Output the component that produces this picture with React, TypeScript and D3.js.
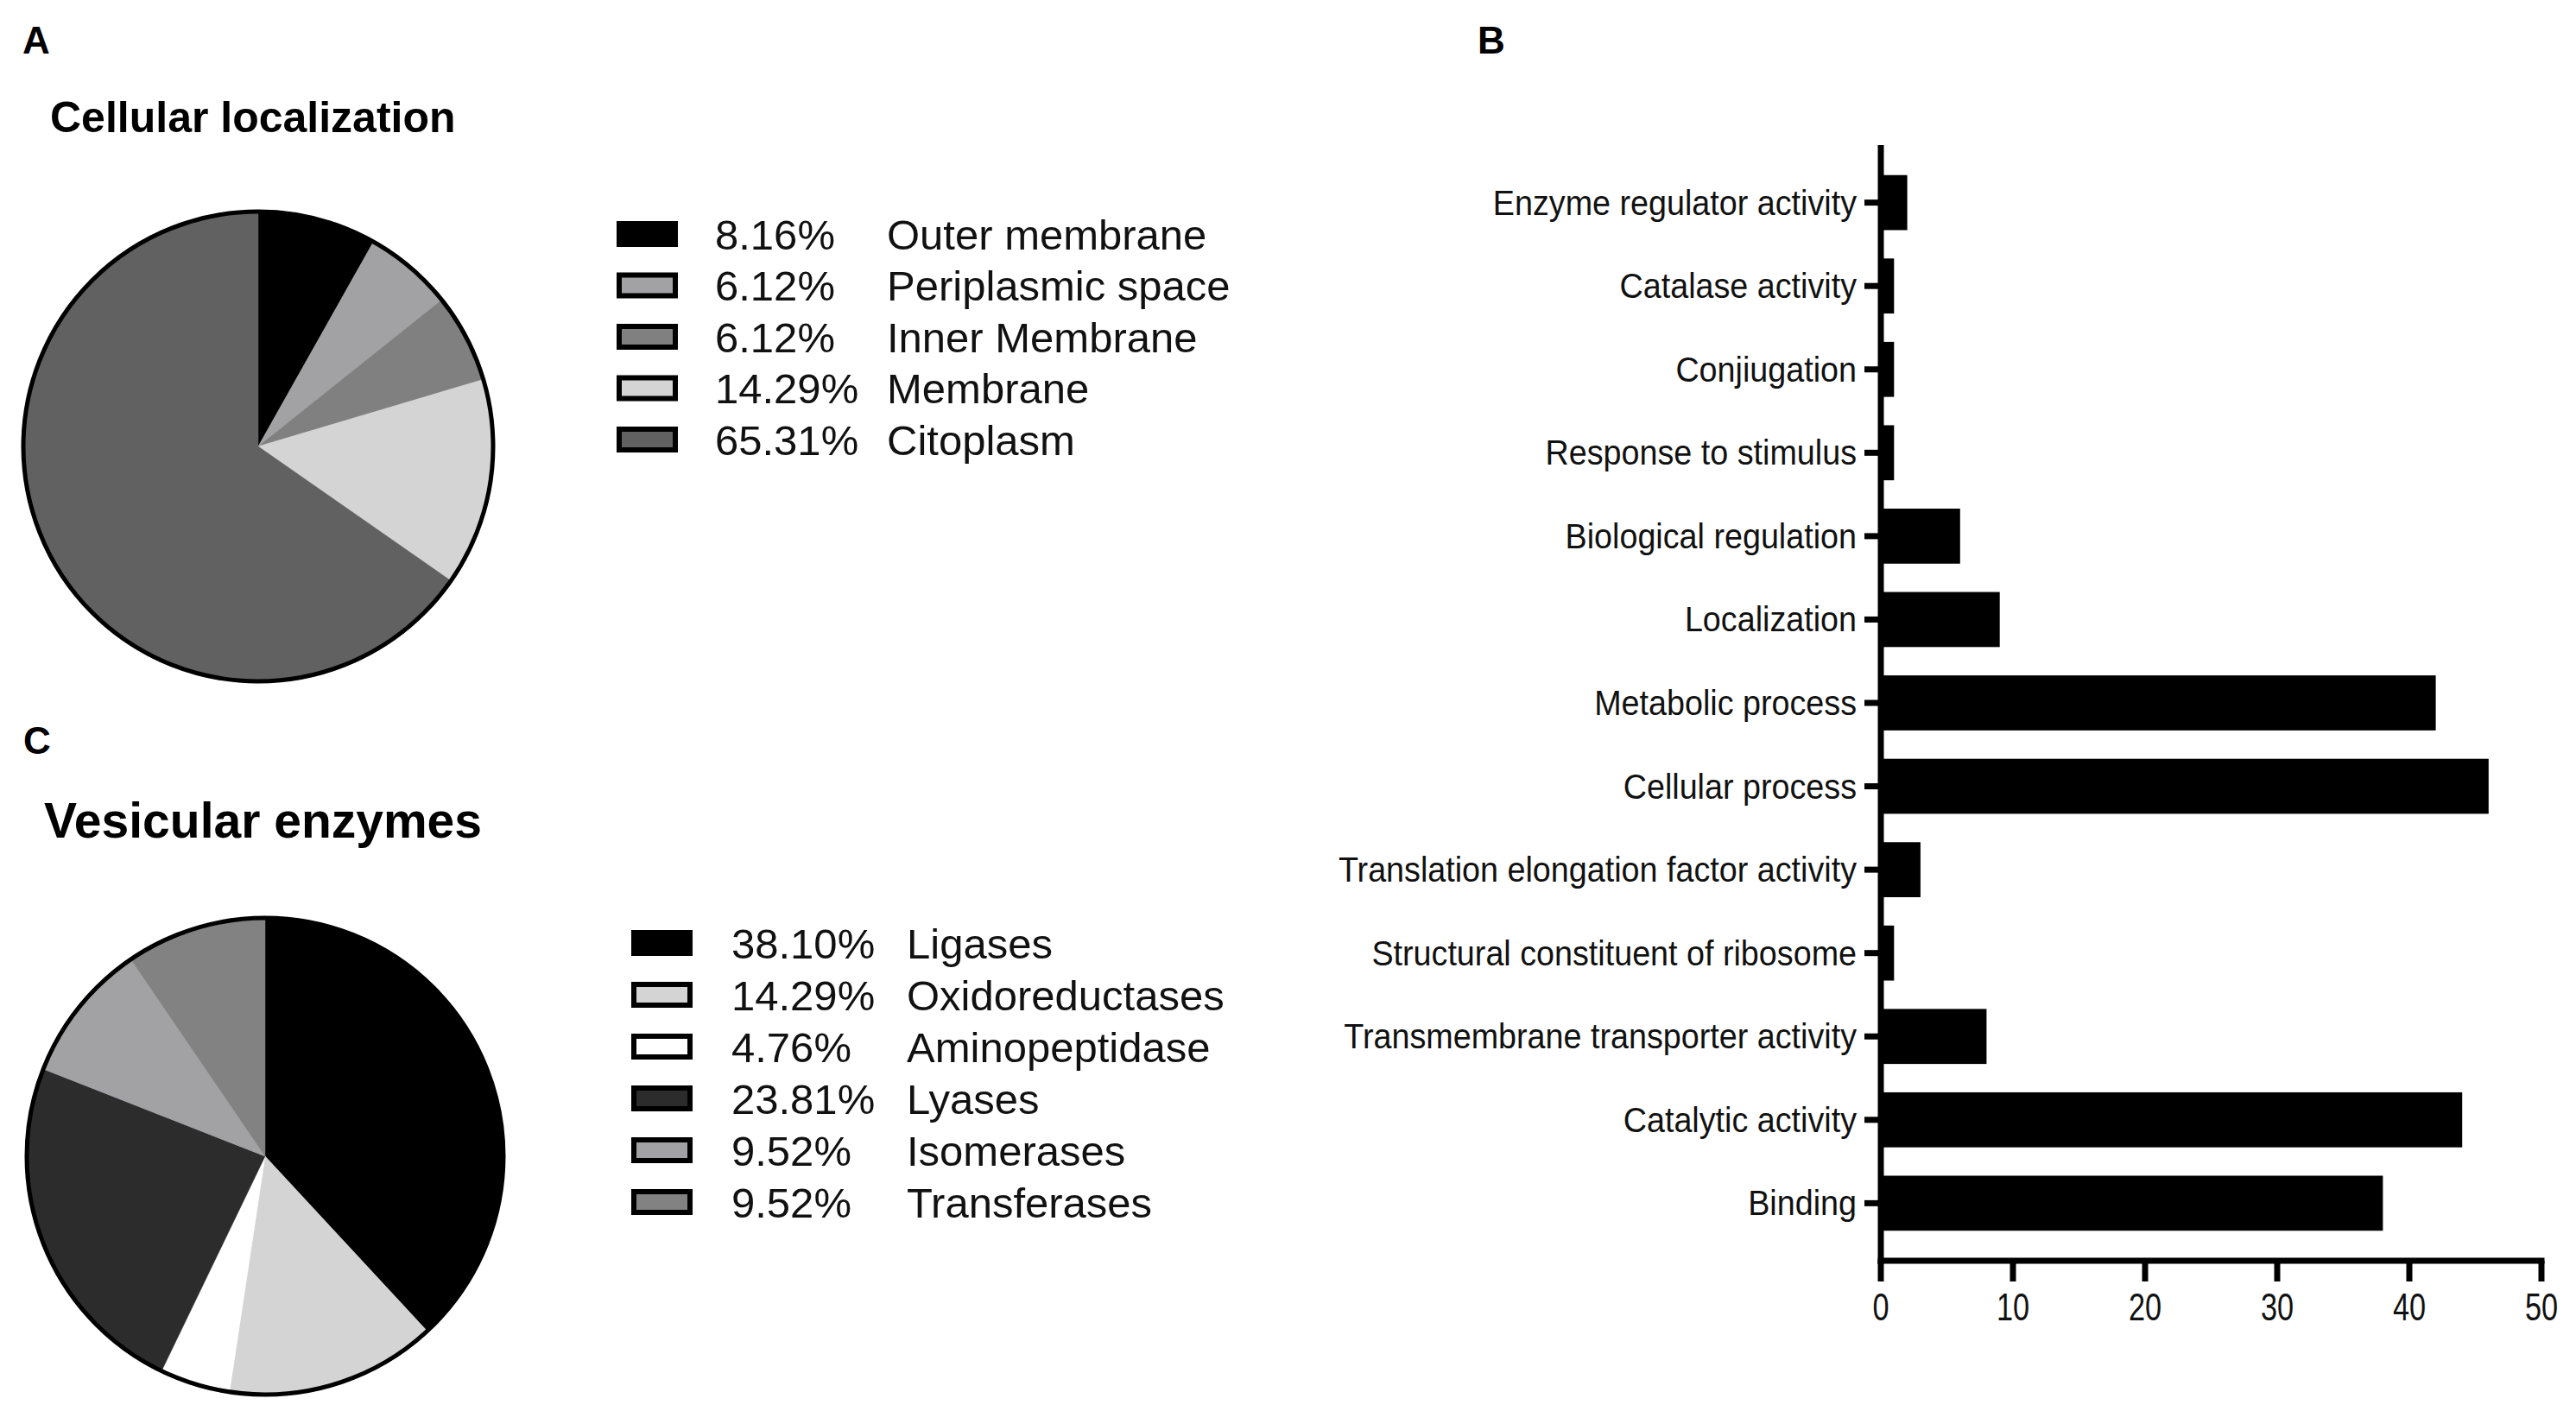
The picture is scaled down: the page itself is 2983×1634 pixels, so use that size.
import * as d3 from 'd3'

const W = 2983
const H = 1634
const FONT = "'Liberation Sans', Arial, Helvetica, sans-serif"

// Panel A - cellular localization
const locLabels = ['Outer membrane', 'Periplasmic space', 'Inner Membrane', 'Membrane', 'Citoplasm']
const locValues = [8.16, 6.12, 6.12, 14.29, 65.31]
const locColors = ['#000000', '#a2a2a5', '#808080', '#d4d4d4', '#616161']

// Panel C - vesicular enzymes
const enzLabels = ['Ligases', 'Oxidoreductases', 'Aminopeptidase', 'Lyases', 'Isomerases', 'Transferases']
const enzValues = [38.1, 14.29, 4.76, 23.81, 9.52, 9.52]
const enzColors = ['#000000', '#d4d4d4', '#ffffff', '#2c2c2c', '#a2a2a5', '#828282']

// Panel B - GO terms
const goTerms = [
  'Enzyme regulator activity',
  'Catalase activity',
  'Conjiugation',
  'Response to stimulus',
  'Biological regulation',
  'Localization',
  'Metabolic process',
  'Cellular process',
  'Translation elongation factor activity',
  'Structural constituent of ribosome',
  'Transmembrane transporter activity',
  'Catalytic activity',
  'Binding',
]
const goCounts = [2, 1, 1, 1, 6, 9, 42, 46, 3, 1, 8, 44, 38]
const xTicks = [0, 10, 20, 30, 40, 50]

interface PieProps {
  cx: number
  cy: number
  r: number
  labels: string[]
  values: number[]
  colors: string[]
  legendX: number
  legendY: number
  legendStep: number
  pctX: number
  nameX: number
}

function PieBlock({ cx, cy, r, labels, values, colors, legendX, legendY, legendStep, pctX, nameX }: PieProps) {
  const pie = d3.pie<number>().sort(null).value(d => d)
  const arcs = pie(values)
  const arc = d3.arc<d3.PieArcDatum<number>>().innerRadius(0).outerRadius(r)
  const fs = 49
  return (
    <g>
      <g transform={`translate(${cx},${cy})`}>
        {arcs.map((a, i) => (
          <path key={i} d={arc(a) || ''} fill={colors[i]} stroke={colors[i]} strokeWidth={0.5} />
        ))}
        <circle r={r} fill="none" stroke="#000" strokeWidth={5} />
      </g>
      {labels.map((lab, i) => {
        const yc = legendY + i * legendStep
        const solid = colors[i] === '#000000'
        return (
          <g key={lab}>
            {solid ? (
              <rect x={legendX} y={yc - 15} width={71} height={30} fill="#000" />
            ) : (
              <rect x={legendX + 3} y={yc - 12} width={65} height={24} fill={colors[i]} stroke="#000" strokeWidth={6} />
            )}
            <text x={pctX} y={yc + fs * 0.36} fontSize={fs} fontFamily={FONT} fill="#111">
              {values[i].toFixed(2)}%
            </text>
            <text x={nameX} y={yc + fs * 0.36} fontSize={fs} fontFamily={FONT} fill="#111">
              {lab}
            </text>
          </g>
        )
      })}
    </g>
  )
}

function BarPanel() {
  const x = d3.scaleLinear().domain([0, 50]).range([2178, 2943])
  const y = d3.scaleBand<string>().domain(goTerms).range([168, 1460]).paddingInner(0.34).paddingOuter(0.36)
  const axisY = 1460
  return (
    <g>
      {goTerms.map((t, i) => (
        <rect key={t} x={x(0)} y={y(t)!} width={x(goCounts[i]) - x(0)} height={y.bandwidth()} fill="#000" />
      ))}
      {/* y axis */}
      <line x1={x(0)} x2={x(0)} y1={168} y2={axisY + 4} stroke="#000" strokeWidth={7} />
      {goTerms.map(t => {
        const yc = y(t)! + y.bandwidth() / 2
        return (
          <g key={t}>
            <line x1={x(0) - 19} x2={x(0)} y1={yc} y2={yc} stroke="#000" strokeWidth={7} />
            <g transform={`translate(2150,${yc + 14}) scale(0.92,1)`}>
              <text textAnchor="end" fontSize={41} fontFamily={FONT} fill="#111">{t}</text>
            </g>
          </g>
        )
      })}
      {/* x axis */}
      <line x1={x(0) - 3.5} x2={x(50) + 3.5} y1={axisY} y2={axisY} stroke="#000" strokeWidth={7} />
      {xTicks.map(v => (
        <g key={v}>
          <line x1={x(v)} x2={x(v)} y1={axisY} y2={axisY + 24} stroke="#000" strokeWidth={7} />
          <g transform={`translate(${x(v)},1529) scale(0.78,1)`}>
            <text textAnchor="middle" fontSize={44} fontFamily={FONT} fill="#111">{v}</text>
          </g>
        </g>
      ))}
    </g>
  )
}

export default function App() {
  return (
    <svg
      width={W}
      height={H}
      viewBox={`0 0 ${W} ${H}`}
      style={{ position: 'absolute', left: 0, top: 0, background: '#fff' }}
    >
      <rect width={W} height={H} fill="#fff" />
      <text x={26} y={62} fontSize={44} fontWeight="bold" fontFamily={FONT}>A</text>
      <text x={1711} y={62} fontSize={44} fontWeight="bold" fontFamily={FONT}>B</text>
      <text x={27} y={873} fontSize={44} fontWeight="bold" fontFamily={FONT}>C</text>
      <text x={58} y={153} fontSize={50} fontWeight="bold" fontFamily={FONT}>Cellular localization</text>
      <text x={51} y={970} fontSize={57} fontWeight="bold" fontFamily={FONT}>Vesicular enzymes</text>

      <PieBlock
        cx={299} cy={517} r={272}
        labels={locLabels} values={locValues} colors={locColors}
        legendX={714} legendY={271} legendStep={59.5}
        pctX={828} nameX={1027}
      />
      <PieBlock
        cx={307} cy={1339} r={276}
        labels={enzLabels} values={enzValues} colors={enzColors}
        legendX={731} legendY={1092} legendStep={60}
        pctX={847} nameX={1050}
      />
      <BarPanel />
    </svg>
  )
}
